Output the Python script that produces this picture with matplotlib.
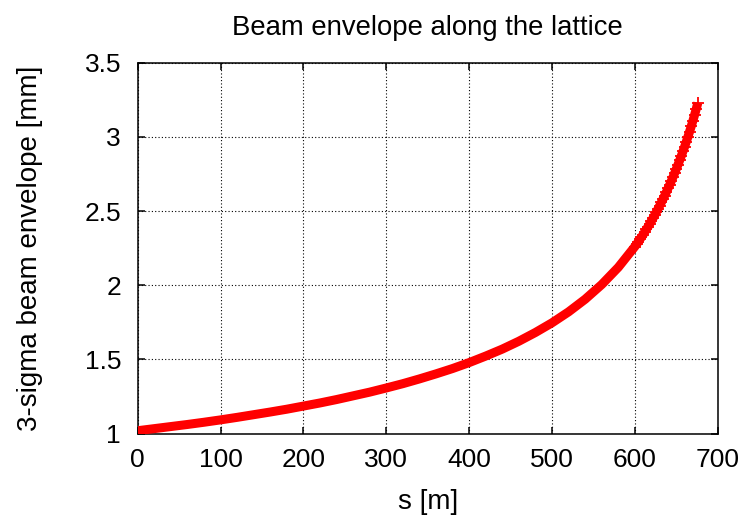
import matplotlib
matplotlib.use("Agg")
import matplotlib.pyplot as plt

plt.rcParams["font.family"] = ["Liberation Sans", "DejaVu Sans"]

# Beam envelope samples: position along the lattice [m] and 3-sigma envelope [mm]
s_pos = [0, 20, 40, 60, 80, 100, 120, 140, 160, 180, 200, 220, 240, 260, 280,
         300, 320, 340, 360, 380, 400, 420, 440, 460, 480, 500, 520, 540, 560,
         580, 600, 602, 604, 606, 608, 610, 612, 614, 616, 618, 620, 622, 624,
         626, 628, 630, 632, 634, 636, 638, 640, 642, 644, 646, 648, 650, 652,
         654, 656, 658, 660, 662, 664, 666, 668, 670, 672, 674, 676]
envelope = [1.020, 1.034, 1.048, 1.062, 1.077, 1.093, 1.110, 1.128, 1.146,
            1.165, 1.186, 1.207, 1.230, 1.255, 1.280, 1.308, 1.337, 1.369,
            1.403, 1.439, 1.479, 1.523, 1.570, 1.623, 1.682, 1.747, 1.821,
            1.906, 2.005, 2.121, 2.261, 2.276, 2.292, 2.309, 2.325, 2.342,
            2.360, 2.378, 2.396, 2.414, 2.434, 2.453, 2.473, 2.494, 2.515,
            2.537, 2.559, 2.581, 2.605, 2.628, 2.653, 2.677, 2.703, 2.729,
            2.756, 2.784, 2.812, 2.841, 2.871, 2.902, 2.933, 2.966, 3.000,
            3.035, 3.071, 3.108, 3.147, 3.187, 3.230]

x_ticks = [0, 100, 200, 300, 400, 500, 600, 700]
y_ticks = [1, 1.5, 2, 2.5, 3, 3.5]
y_tick_labels = ["1", "1.5", "2", "2.5", "3", "3.5"]

fig = plt.figure(figsize=(7.46, 5.19), dpi=100)
ax = fig.add_axes([0.1846, 0.1644, 0.7775, 0.7148])

# '+' markers only where the samples are closely spaced (steep end of the curve)
dense = [i for i, s in enumerate(s_pos) if s >= 600]
ax.plot(s_pos, envelope, color="#ff0000", lw=6.5, solid_capstyle="butt",
        marker="+", ms=8, mew=1.3, markevery=dense, zorder=3)

ax.set_xlim(0, 700)
ax.set_ylim(1, 3.5)
ax.set_xticks(x_ticks)
ax.set_xticklabels([str(v) for v in x_ticks])
ax.set_yticks(y_ticks)
ax.set_yticklabels(y_tick_labels)

ax.grid(True, color="black", linestyle=(0, (1, 2)), linewidth=0.8)
ax.set_axisbelow(True)

for sp in ax.spines.values():
    sp.set_linewidth(1.1)
    sp.set_color("black")

ax.tick_params(axis="both", direction="in", length=5, width=1.1,
               top=True, right=True, labelsize=19, colors="black")
ax.tick_params(axis="x", pad=10.5)
ax.tick_params(axis="y", pad=12)

ax.set_title("Beam envelope along the lattice", fontsize=19.8, pad=20)
ax.set_xlabel("s [m]", fontsize=20, labelpad=12)
ax.set_ylabel("3-sigma beam envelope [mm]", fontsize=20, labelpad=30)

fig.savefig("out.png", dpi=100)
